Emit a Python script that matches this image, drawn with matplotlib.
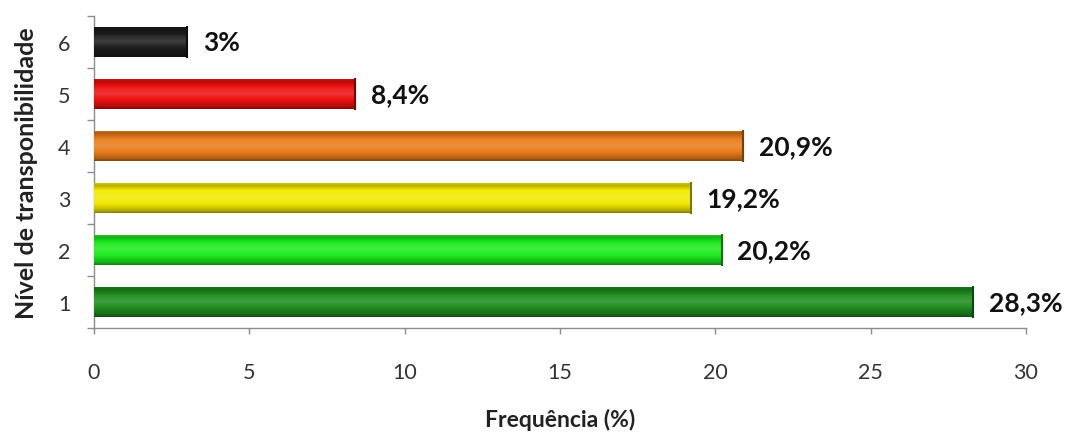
import numpy as np
import matplotlib
matplotlib.use("Agg")
import matplotlib.pyplot as plt
from matplotlib.colors import to_rgb

levels = [1, 2, 3, 4, 5, 6]
freq = [28.3, 20.2, 19.2, 20.9, 8.4, 3.0]
value_labels = ["28,3%", "20,2%", "19,2%", "20,9%", "8,4%", "3%"]
bar_colors = ["#1e8c1e", "#1eea1e", "#f2ea00", "#e97d1c", "#ee1010", "#1c1c1c"]
x_ticks = [0, 5, 10, 15, 20, 25, 30]

plt.rcParams['font.family'] = ['Lato', 'DejaVu Sans']

fig = plt.figure(figsize=(10.66, 4.35), dpi=100)
ax = fig.add_axes([0.0882, 0.2437, 0.8743, 0.7173])

bar_h = 0.58
bars = ax.barh(levels, freq, height=bar_h, color=bar_colors, edgecolor="none", zorder=2)


def shade(rgb, f):
    rgb = np.array(rgb)
    if f >= 0:
        return rgb + (1 - rgb) * f
    return rgb * (1 + f)


# vertical shading to give each bar a rounded, glossy look
profile_pos = np.linspace(0, 1, 64)
profile = np.interp(profile_pos, [0, 0.08, 0.3, 0.5, 0.7, 0.9, 1.0],
                    [-0.45, -0.25, 0.0, 0.15, 0.05, -0.25, -0.1])
for rect, col in zip(bars, bar_colors):
    base = to_rgb(col)
    img = np.array([shade(base, f) for f in profile]).reshape(-1, 1, 3)
    x0, y0 = rect.get_x(), rect.get_y()
    w, h = rect.get_width(), rect.get_height()
    im = ax.imshow(img, extent=[x0, x0 + w, y0, y0 + h], origin="lower",
                   aspect="auto", zorder=3, interpolation="bilinear")
    im.set_clip_path(rect)
    ax.plot([x0 + w, x0 + w], [y0, y0 + h], color=shade(base, -0.5), lw=1.5, zorder=4)

for rect, txt in zip(bars, value_labels):
    ax.text(rect.get_width() + 0.5, rect.get_y() + rect.get_height() / 2, txt,
            ha="left", va="center", fontsize=19, fontweight="bold", color="#111111", zorder=5)

ax.set_xlim(0, 30)
ax.set_ylim(0.5, 6.5)
ax.set_xticks(x_ticks)
ax.set_xticklabels([str(t) for t in x_ticks])
ax.set_yticks(levels)
ax.set_yticklabels([str(l) for l in levels])
ax.set_yticks(np.arange(0.5, 6.6, 1.0), minor=True)

for s in ["top", "right"]:
    ax.spines[s].set_visible(False)
for s in ["left", "bottom"]:
    ax.spines[s].set_color("#8c8c8c")
    ax.spines[s].set_linewidth(1.0)

ax.tick_params(axis="x", direction="out", length=4.5, width=1, color="#8c8c8c",
               labelsize=15.5, pad=20, labelcolor="#333333")
ax.tick_params(axis="y", which="major", length=0, labelsize=15.5, pad=17, labelcolor="#333333")
ax.tick_params(axis="y", which="minor", direction="out", length=5, width=1, color="#8c8c8c")

ax.set_xlabel("Frequência (%)", fontsize=16.5, fontweight="bold", color="#222222", labelpad=19)
ax.set_ylabel("Nível de transponibilidade", fontsize=18, fontweight="bold", color="#222222", labelpad=14)

fig.savefig("out.png", dpi=100, facecolor="white")
